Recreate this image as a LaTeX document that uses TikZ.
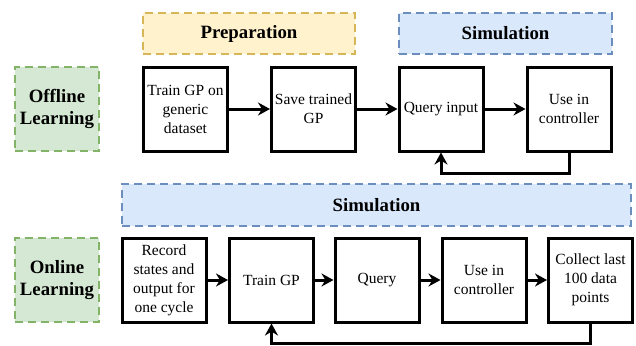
\documentclass[tikz,border=0pt]{standalone}
\usepackage{fontspec}
\setmainfont{Liberation Serif}
\usetikzlibrary{arrows.meta}
\definecolor{gfill}{HTML}{D5E8D4}\definecolor{gline}{HTML}{82B366}
\definecolor{yfill}{HTML}{FFF2CC}\definecolor{yline}{HTML}{D6B656}
\definecolor{bfill}{HTML}{DAE8FC}\definecolor{bline}{HTML}{6C8EBF}
\begin{document}
\begin{tikzpicture}[x=1pt,y=-1pt,
  box/.style={draw=black, line width=3pt, fill=white, rectangle, minimum width=84pt, minimum height=84pt, inner sep=1pt, align=center, font=\fontsize{15.5}{19}\selectfont},
  lab/.style={rectangle, line width=2.6pt, dash pattern=on 8pt off 5pt, align=center, inner sep=0pt, font=\fontsize{18.8}{22.5}\selectfont\bfseries},
  green/.style={lab, draw=gline, fill=gfill, minimum width=84pt, minimum height=84pt},
  yellow/.style={lab, draw=yline, fill=yfill},
  blue/.style={lab, draw=bline, fill=bfill},
  arr/.style={draw=black, line width=3pt, -{Stealth[length=12pt,width=13pt]}}]
\useasboundingbox (0,0) rectangle (636,345);
% offline
\node[green] (off) at (57,109) {Offline\\Learning};
\node[yellow, minimum width=212pt, minimum height=41pt] (prep) at (249,33.5) {Preparation};
\node[blue, minimum width=213pt, minimum height=41pt] (sim1) at (505.5,33.5) {Simulation};
\node[box] (a1) at (185.5,109) {Train GP on\\generic\\dataset};
\node[box] (a2) at (313.5,109) {Save trained\\GP};
\node[box] (a3) at (441,109) {Query input};
\node[box] (a4) at (569,109) {Use in\\controller};
\draw[arr] (a1) -- (a2);
\draw[arr] (a2) -- (a3);
\draw[arr] (a3) -- (a4);
\draw[arr] (a4.south) -- ++(0,21) -| (a3.south);
% online
\node[green] (on) at (57,280) {Online\\Learning};
\node[blue, minimum width=509pt, minimum height=42pt] (sim2) at (376.5,205) {Simulation};
\node[box] (b1) at (164,280) {Record\\states and\\output for\\one cycle};
\node[box] (b2) at (271.5,280) {Train GP};
\node[box] (b3) at (377,280) {Query};
\node[box] (b4) at (484,280) {Use in\\controller};
\node[box] (b5) at (590.5,280) {Collect last\\100 data\\points};
\draw[arr] (b1) -- (b2);
\draw[arr] (b2) -- (b3);
\draw[arr] (b3) -- (b4);
\draw[arr] (b4) -- (b5);
\draw[arr] (b5.south) -- ++(0,20) -| (b2.south);
\end{tikzpicture}
\end{document}
